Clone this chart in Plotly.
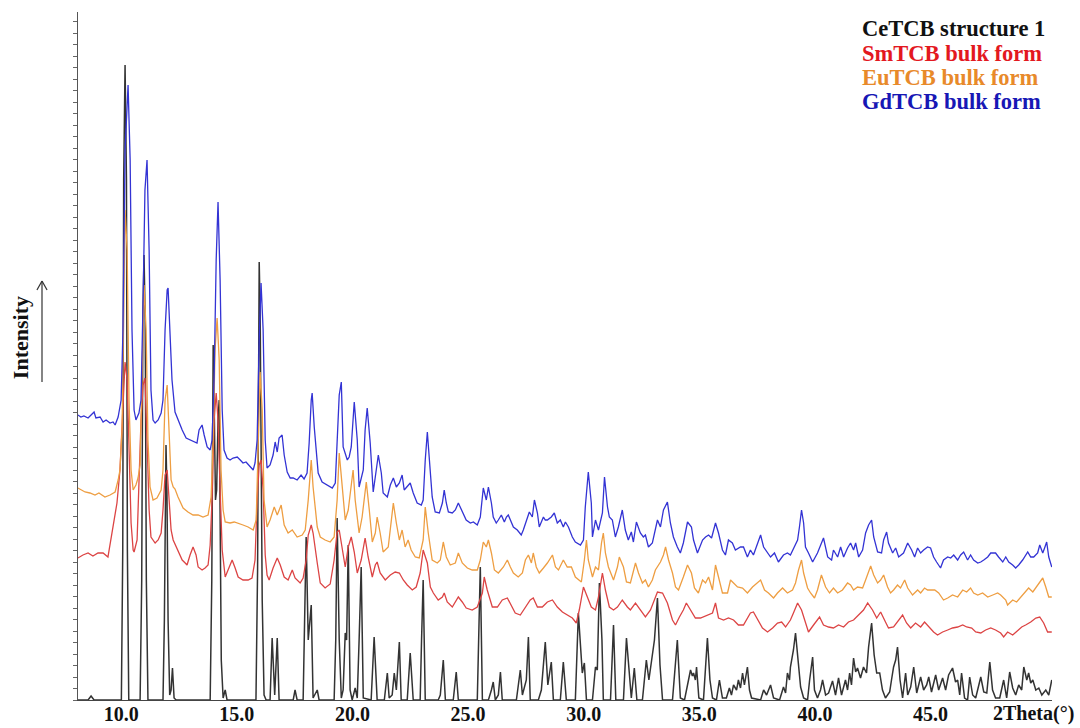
import plotly.graph_objects as go

# ---- data (2Theta in degrees, intensity in arbitrary units, offsets included) ----
ce_2theta = [8.13, 8.57, 8.70, 8.83, 9.95, 10.01, 10.07, 10.11, 10.17, 10.23, 10.27, 10.33, 10.77, 10.82, 10.89, 10.94, 10.99, 11.04, 11.09, 11.16,
             11.77, 11.81, 11.87, 11.91, 11.94, 11.98, 12.03, 12.10, 12.16, 12.22, 12.29, 12.38, 13.80, 13.85, 13.92, 13.95, 13.98, 14.02, 14.08, 14.13,
             14.19, 14.24, 14.28, 14.33, 14.41, 14.50, 14.58,
             15.79, 15.83, 15.90, 15.94, 15.97, 16.01, 16.06, 16.10, 16.18, 16.27, 16.44, 16.53, 16.64, 16.75, 16.83, 17.44, 17.52, 17.61, 17.87, 17.94, 18.00, 18.09,
             18.22, 18.30, 18.48, 18.56, 19.21, 19.28, 19.34, 19.43, 19.52, 19.60, 19.69, 19.75, 19.82, 19.90, 19.99, 20.12, 20.21, 20.29, 20.38,
             20.47, 20.81, 20.94, 21.07, 21.38, 21.51, 21.59, 21.72, 21.81, 21.90, 22.03, 22.11, 22.37, 22.50, 22.63, 22.93, 22.99, 23.06, 23.15,
             23.71, 23.80, 23.93, 24.02, 24.36, 24.49, 24.58, 25.40, 25.47, 25.53, 25.62, 25.88, 26.01, 26.09, 26.18, 26.31, 26.40, 26.48,
             27.09, 27.26, 27.35, 27.52, 27.61, 27.69, 28.04, 28.17, 28.34, 28.45, 28.60, 28.69, 28.99, 29.12, 29.25, 29.64, 29.77, 29.88,
             29.94, 30.03, 30.12, 30.38, 30.51, 30.59, 30.68, 30.79, 30.85, 31.16, 31.29, 31.39, 31.72, 31.85, 31.96, 32.06, 32.19, 32.30,
             32.54, 32.71, 32.82, 32.93, 33.06, 33.19, 33.30, 33.41, 33.84, 34.05, 34.18, 34.36, 34.62, 34.70, 34.75, 34.83, 34.88, 34.98,
             35.18, 35.35, 35.46, 35.57, 35.74, 35.87, 36.00, 36.17, 36.30, 36.39, 36.48, 36.61, 36.69, 36.78, 36.87, 36.95, 37.08, 37.17,
             37.26, 37.65, 37.78, 37.91, 38.08, 38.21, 38.47, 38.64, 38.73, 38.81, 38.90, 38.94, 39.07, 39.16, 39.25, 39.38, 39.51, 39.68,
             39.77, 39.90, 39.98, 40.11, 40.24, 40.33, 40.46, 40.59, 40.76, 40.89, 41.02, 41.15, 41.32, 41.41, 41.50, 41.58, 41.67, 41.76,
             41.84, 41.97, 42.10, 42.23, 42.32, 42.45, 42.56, 42.67, 42.80, 42.92, 43.05, 43.23, 43.31, 43.40, 43.49, 43.57, 43.68, 43.79,
             43.92, 44.01, 44.14, 44.27, 44.40, 44.57, 44.70, 44.83, 44.92, 45.04, 45.22, 45.35, 45.52, 45.65, 45.78, 45.95, 46.08, 46.17,
             46.26, 46.34, 46.47, 46.60, 46.69, 46.82, 46.95, 47.17, 47.30, 47.43, 47.56, 47.68, 47.81, 47.99, 48.16, 48.29, 48.42, 48.55,
             48.68, 48.81, 48.94, 49.03, 49.16, 49.24, 49.33, 49.42, 49.55, 49.68, 49.81, 49.89, 49.98, 50.11, 50.24]
ce_int = [0, 0, 4, 0, 0, 0, 150, 520, 635, 520, 150, 0, 0, 0, 120, 380, 445, 380, 120, 0,
          0, 0, 80, 210, 255, 210, 80, 5, 10, 32, 2, 0, 0, 0, 120, 310, 355, 300, 200, 210,
          280, 300, 200, 40, 2, 10, 0,
          0, 0, 130, 390, 438, 390, 250, 100, 5, 0, 0, 62, 5, 62, 0, 0, 10, 0, 0, 80, 163, 60,
          95, 2, 10, 0, 0, 60, 182, 60, 2, 10, 67, 60, 155, 10, 0, 12, 2, 60, 133,
          2, 0, 63, 0, 0, 27, 2, 5, 27, 10, 58, 0, 0, 47, 0, 0, 60, 120, 0,
          0, 5, 40, 0, 0, 28, 0, 0, 60, 133, 0, 0, 10, 18, 0, 5, 28, 0,
          0, 30, 5, 20, 63, 0, 0, 10, 58, 15, 38, 0, 0, 38, 0, 0, 87, 40,
          27, 37, 0, 0, 33, 30, 117, 60, 0, 0, 75, 0, 0, 62, 30, 2, 32, 0,
          0, 40, 20, 40, 60, 102, 35, 0, 0, 60, 2, 0, 30, 24, 27, 20, 33, 2,
          0, 62, 20, 2, 0, 20, 2, 2, 12, 5, 15, 10, 20, 12, 27, 15, 33, 10,
          2, 0, 10, 5, 15, 2, 0, 13, 7, 27, 20, 33, 50, 67, 45, 13, 2, 0,
          20, 43, 10, 2, 10, 20, 5, 7, 19, 5, 22, 5, 20, 10, 27, 15, 42, 28,
          32, 22, 33, 27, 53, 77, 45, 27, 27, 10, 2, 8, 20, 33, 40, 53, 20, 2,
          27, 5, 13, 33, 7, 23, 10, 15, 23, 8, 25, 10, 22, 10, 25, 32, 18, 20,
          5, 27, 2, 0, 23, 5, 2, 23, 8, 7, 38, 10, 2, 2, 20, 2, 28, 12,
          5, 15, 10, 33, 20, 27, 17, 20, 10, 12, 5, 8, 10, 5, 20]

sm_2theta = [8.13, 8.35, 8.57, 8.78, 9.00, 9.22, 9.43, 9.56, 9.69, 9.82, 9.95, 10.04, 10.13, 10.17, 10.26, 10.34, 10.43, 10.52, 10.56,
             10.69, 10.77, 10.86, 10.95, 11.03, 11.12, 11.21, 11.29, 11.47, 11.60, 11.73, 11.81, 11.90, 11.99, 12.07, 12.16, 12.25, 12.46,
             12.64, 12.77, 12.85, 12.98, 13.11, 13.24, 13.33, 13.50, 13.63, 13.76, 13.85, 13.93, 14.02, 14.11, 14.19, 14.28, 14.37, 14.50,
             14.63, 14.80, 14.93, 15.06, 15.27, 15.49, 15.66, 15.79, 15.88, 15.97, 16.05, 16.14, 16.23, 16.31, 16.40, 16.57, 16.75, 16.88,
             17.05, 17.22, 17.40, 17.52, 17.74, 17.87, 18.00, 18.09, 18.22, 18.30, 18.48, 18.61, 18.82, 19.04, 19.21, 19.34, 19.43, 19.56,
             19.69, 19.82, 19.95, 20.08, 20.21, 20.38, 20.55, 20.68, 20.86, 20.99, 21.07, 21.20, 21.42, 21.64, 21.85, 22.03, 22.20, 22.37,
             22.59, 22.76, 22.93, 23.06, 23.24, 23.37, 23.50, 23.71, 23.89, 23.97, 24.10, 24.32, 24.49, 24.58, 24.75, 24.92, 25.18, 25.40,
             25.62, 25.70, 25.83, 26.05, 26.27, 26.48, 26.70, 26.87, 27.04, 27.26, 27.48, 27.69, 27.82, 28.00, 28.21, 28.43, 28.65, 28.86,
             29.08, 29.29, 29.51, 29.68, 29.81, 29.99, 30.16, 30.33, 30.51, 30.64, 30.81, 30.94, 31.11, 31.29, 31.46, 31.67, 31.89, 32.02,
             32.24, 32.45, 32.67, 32.89, 33.06, 33.19, 33.41, 33.62, 33.84, 33.97, 34.14, 34.31, 34.44, 34.62, 34.83, 35.05, 35.35, 35.57,
             35.70, 35.83, 36.05, 36.26, 36.48, 36.69, 36.91, 37.21, 37.34, 37.52, 37.73, 37.95, 38.17, 38.38, 38.56, 38.73, 38.94, 39.07,
             39.25, 39.42, 39.59, 39.72, 39.94, 40.20, 40.37, 40.59, 40.80, 41.02, 41.24, 41.45, 41.67, 41.89, 42.10, 42.28, 42.49, 42.67,
             42.84, 43.05, 43.18, 43.40, 43.62, 43.79, 43.96, 44.14, 44.35, 44.57, 44.74, 44.92, 45.13, 45.30, 45.52, 45.74, 45.95, 46.17,
             46.39, 46.56, 46.78, 46.95, 47.17, 47.38, 47.60, 47.81, 48.03, 48.16, 48.33, 48.55, 48.77, 48.94, 49.11, 49.33, 49.55, 49.72,
             49.89, 50.06, 50.24]
sm_int = [142, 145, 147, 144, 147, 147, 143, 160, 180, 197, 230, 280, 330, 338, 320, 250, 177, 150, 148,
          160, 210, 280, 315, 322, 260, 190, 163, 157, 160, 167, 190, 225, 230, 200, 170, 160, 150,
          140, 137, 135, 145, 153, 145, 133, 130, 132, 135, 155, 200, 280, 307, 280, 210, 150, 123,
          130, 140, 132, 123, 120, 120, 122, 140, 200, 235, 240, 210, 145, 125, 120, 132, 142, 135,
          123, 120, 130, 122, 117, 122, 140, 165, 175, 167, 137, 117, 112, 116, 140, 168, 170, 153,
          133, 153, 163, 148, 127, 140, 162, 143, 123, 135, 138, 127, 120, 125, 128, 127, 120, 115,
          110, 113, 127, 150, 137, 113, 107, 100, 103, 107, 98, 93, 100, 103, 98, 92, 90, 93,
          107, 123, 110, 93, 93, 100, 102, 95, 87, 85, 93, 100, 102, 93, 93, 98, 100, 93,
          88, 85, 82, 77, 90, 113, 103, 93, 90, 103, 127, 110, 93, 90, 93, 100, 93, 90,
          97, 90, 83, 90, 100, 108, 107, 97, 80, 75, 83, 90, 97, 90, 82, 82, 85, 87,
          97, 82, 80, 82, 80, 75, 75, 87, 88, 80, 72, 68, 72, 77, 78, 73, 80, 87,
          97, 90, 78, 68, 75, 83, 75, 73, 72, 75, 73, 78, 80, 85, 90, 97, 90, 82,
          88, 78, 72, 73, 80, 85, 77, 72, 77, 73, 78, 73, 68, 65, 68, 70, 72, 73,
          75, 73, 72, 68, 67, 70, 72, 70, 67, 63, 68, 65, 70, 73, 75, 78, 82, 83,
          77, 68, 68]

eu_2theta = [8.13, 8.44, 8.65, 8.87, 9.04, 9.30, 9.52, 9.74, 9.87, 9.95, 10.04, 10.13, 10.17, 10.26, 10.34, 10.43, 10.52, 10.64, 10.73,
             10.82, 10.90, 10.99, 11.08, 11.16, 11.25, 11.38, 11.55, 11.73, 11.81, 11.90, 11.99, 12.07, 12.16, 12.25, 12.33, 12.46, 12.68,
             12.89, 13.11, 13.33, 13.54, 13.76, 13.89, 13.98, 14.06, 14.15, 14.24, 14.32, 14.41, 14.50, 14.71, 14.89, 15.06, 15.27, 15.49,
             15.71, 15.84, 15.92, 16.01, 16.10, 16.18, 16.31, 16.44, 16.62, 16.75, 16.92, 17.05, 17.22, 17.40, 17.61, 17.83, 17.96, 18.09,
             18.22, 18.30, 18.48, 18.61, 18.82, 19.04, 19.21, 19.34, 19.43, 19.56, 19.69, 19.82, 20.03, 20.12, 20.29, 20.42, 20.60, 20.73,
             20.86, 20.99, 21.07, 21.20, 21.33, 21.55, 21.77, 21.90, 22.03, 22.15, 22.28, 22.41, 22.54, 22.72, 22.89, 23.06, 23.15, 23.28,
             23.45, 23.67, 23.80, 23.93, 24.06, 24.23, 24.45, 24.58, 24.75, 24.97, 25.18, 25.40, 25.53, 25.66, 25.79, 25.88, 26.01, 26.14,
             26.31, 26.53, 26.70, 26.83, 26.96, 27.17, 27.35, 27.48, 27.61, 27.74, 27.82, 27.95, 28.08, 28.26, 28.43, 28.65, 28.78, 28.91,
             29.12, 29.29, 29.47, 29.64, 29.90, 30.03, 30.12, 30.20, 30.38, 30.51, 30.64, 30.77, 30.85, 30.94, 31.07, 31.29, 31.46, 31.54,
             31.72, 31.85, 32.02, 32.24, 32.37, 32.54, 32.67, 32.80, 32.97, 33.10, 33.32, 33.45, 33.54, 33.67, 33.84, 33.97, 34.10, 34.31,
             34.49, 34.66, 34.79, 34.96, 35.14, 35.27, 35.40, 35.57, 35.70, 35.83, 36.00, 36.22, 36.35, 36.48, 36.65, 36.87, 37.08, 37.30,
             37.52, 37.65, 37.82, 37.99, 38.21, 38.38, 38.60, 38.81, 39.03, 39.16, 39.29, 39.42, 39.51, 39.68, 39.81, 39.98, 40.11, 40.28,
             40.46, 40.63, 40.80, 40.98, 41.19, 41.41, 41.54, 41.67, 41.84, 42.06, 42.19, 42.32, 42.41, 42.54, 42.71, 42.84, 42.97, 43.14,
             43.27, 43.40, 43.57, 43.70, 43.88, 44.01, 44.22, 44.44, 44.57, 44.74, 44.87, 45.00, 45.18, 45.35, 45.56, 45.74, 45.95, 46.17,
             46.39, 46.56, 46.73, 46.86, 47.04, 47.25, 47.47, 47.69, 47.90, 48.03, 48.25, 48.33, 48.55, 48.72, 48.90, 49.07, 49.24, 49.42,
             49.55, 49.68, 49.85, 49.98, 50.11, 50.24]
eu_int = [212, 208, 207, 205, 207, 203, 205, 208, 220, 230, 270, 440, 490, 450, 300, 230, 210, 215, 222,
          235, 320, 415, 370, 260, 213, 200, 202, 210, 230, 300, 315, 270, 220, 213, 211, 203, 192,
          188, 185, 185, 183, 185, 203, 260, 350, 382, 340, 230, 190, 178, 177, 178, 177, 175, 173,
          170, 180, 260, 328, 290, 200, 173, 180, 193, 185, 195, 175, 167, 170, 163, 165, 170, 200,
          240, 213, 173, 163, 160, 158, 163, 200, 247, 213, 180, 190, 230, 200, 167, 183, 218, 190,
          158, 167, 183, 167, 148, 153, 197, 177, 160, 170, 153, 160, 150, 143, 142, 160, 193, 167,
          140, 137, 140, 158, 143, 135, 137, 147, 137, 132, 130, 130, 140, 158, 153, 160, 147, 130,
          127, 133, 140, 133, 127, 123, 127, 140, 145, 137, 147, 133, 127, 132, 137, 145, 133, 130,
          140, 133, 133, 123, 118, 140, 160, 140, 123, 133, 130, 157, 167, 147, 133, 120, 133, 143,
          133, 118, 117, 137, 127, 117, 120, 113, 120, 130, 138, 145, 153, 140, 127, 113, 110, 123,
          135, 127, 112, 107, 120, 117, 123, 110, 135, 123, 107, 107, 120, 117, 113, 112, 107, 113,
          118, 120, 110, 107, 102, 107, 112, 107, 110, 117, 130, 140, 127, 112, 107, 102, 110, 125,
          113, 107, 112, 107, 110, 117, 115, 110, 113, 112, 120, 128, 134, 125, 117, 120, 125, 113,
          107, 110, 115, 112, 120, 112, 105, 110, 107, 112, 110, 110, 110, 107, 100, 102, 105, 103,
          110, 108, 112, 107, 105, 107, 103, 105, 107, 105, 100, 95, 100, 98, 103, 107, 112, 108,
          112, 117, 122, 113, 103, 103]

gd_2theta = [8.13, 8.26, 8.39, 8.57, 8.70, 8.83, 8.91, 9.09, 9.22, 9.35, 9.52, 9.65, 9.74, 9.87, 10.00, 10.08, 10.17, 10.26, 10.30,
             10.39, 10.47, 10.56, 10.64, 10.77, 10.86, 10.95, 11.03, 11.12, 11.21, 11.29, 11.38, 11.47, 11.60, 11.73, 11.81, 11.90, 11.99,
             12.03, 12.12, 12.20, 12.33, 12.46, 12.64, 12.81, 12.98, 13.15, 13.28, 13.37, 13.50, 13.59, 13.72, 13.85, 13.93, 14.02, 14.11,
             14.19, 14.28, 14.37, 14.45, 14.58, 14.71, 14.84, 15.02, 15.15, 15.27, 15.40, 15.53, 15.71, 15.79, 15.88, 15.97, 16.05, 16.14,
             16.23, 16.31, 16.44, 16.57, 16.66, 16.75, 16.83, 16.96, 17.05, 17.18, 17.31, 17.44, 17.61, 17.78, 17.91, 18.04, 18.13, 18.22,
             18.26, 18.35, 18.52, 18.69, 18.91, 19.13, 19.26, 19.34, 19.43, 19.52, 19.60, 19.78, 19.86, 19.95, 20.08, 20.21, 20.29, 20.47,
             20.55, 20.64, 20.77, 20.90, 21.03, 21.12, 21.25, 21.33, 21.51, 21.64, 21.77, 21.90, 22.03, 22.15, 22.24, 22.37, 22.50, 22.63,
             22.80, 22.98, 23.06, 23.15, 23.24, 23.32, 23.45, 23.58, 23.76, 23.89, 23.97, 24.06, 24.15, 24.32, 24.45, 24.58, 24.75, 24.92,
             25.10, 25.23, 25.40, 25.53, 25.66, 25.79, 25.88, 26.01, 26.09, 26.22, 26.31, 26.44, 26.57, 26.66, 26.74, 26.87, 26.96, 27.13,
             27.30, 27.39, 27.56, 27.65, 27.78, 27.87, 28.00, 28.08, 28.26, 28.34, 28.43, 28.60, 28.73, 28.86, 28.99, 29.12, 29.21, 29.34,
             29.51, 29.64, 29.86, 29.99, 30.07, 30.20, 30.33, 30.38, 30.51, 30.64, 30.81, 30.90, 31.03, 31.11, 31.24, 31.37, 31.50, 31.67,
             31.80, 31.93, 32.06, 32.15, 32.28, 32.45, 32.58, 32.67, 32.80, 32.97, 33.19, 33.32, 33.45, 33.62, 33.75, 33.88, 34.05, 34.18,
             34.31, 34.49, 34.66, 34.75, 34.92, 35.14, 35.27, 35.40, 35.53, 35.70, 35.83, 36.00, 36.13, 36.26, 36.43, 36.56, 36.78, 36.91,
             37.08, 37.21, 37.34, 37.52, 37.65, 37.78, 37.95, 38.08, 38.25, 38.42, 38.64, 38.81, 38.94, 39.07, 39.25, 39.33, 39.42, 39.51,
             39.59, 39.72, 39.90, 40.11, 40.37, 40.55, 40.72, 40.80, 40.98, 41.11, 41.24, 41.41, 41.54, 41.67, 41.76, 41.89, 42.06, 42.19,
             42.32, 42.45, 42.54, 42.71, 42.88, 42.97, 43.10, 43.18, 43.36, 43.49, 43.62, 43.83, 44.01, 44.18, 44.31, 44.44, 44.57, 44.70,
             44.87, 45.00, 45.13, 45.26, 45.43, 45.56, 45.74, 45.87, 46.00, 46.17, 46.30, 46.43, 46.60, 46.73, 46.86, 47.04, 47.17, 47.30,
             47.47, 47.60, 47.81, 47.94, 48.12, 48.25, 48.38, 48.55, 48.68, 48.81, 48.98, 49.20, 49.33, 49.46, 49.63, 49.72, 49.85, 49.93,
             50.02, 50.11, 50.24]
gd_int = [285, 283, 284, 282, 285, 288, 282, 283, 278, 280, 277, 278, 275, 283, 300, 370, 550, 610, 615,
          540, 370, 290, 280, 287, 300, 400, 510, 540, 450, 310, 280, 277, 280, 287, 300, 370, 410,
          412, 360, 320, 288, 280, 270, 262, 260, 258, 257, 270, 275, 265, 253, 250, 260, 320, 440,
          498, 420, 290, 250, 242, 240, 242, 243, 240, 237, 238, 235, 230, 237, 260, 360, 417, 370,
          260, 232, 235, 245, 258, 248, 262, 265, 245, 228, 222, 222, 220, 225, 221, 227, 257, 300,
          307, 273, 227, 218, 215, 212, 217, 253, 305, 318, 253, 240, 243, 253, 298, 260, 213, 230,
          270, 292, 257, 208, 227, 245, 227, 207, 203, 215, 222, 213, 217, 225, 210, 213, 217, 207,
          197, 195, 200, 240, 268, 243, 203, 188, 187, 197, 210, 197, 188, 187, 190, 197, 188, 180,
          177, 178, 175, 183, 212, 200, 213, 197, 183, 177, 180, 185, 178, 183, 185, 177, 173, 170,
          165, 170, 183, 188, 183, 200, 187, 173, 183, 180, 180, 183, 187, 177, 180, 173, 178, 173,
          163, 158, 155, 160, 193, 228, 197, 163, 180, 170, 187, 223, 193, 183, 180, 163, 173, 190,
          170, 160, 168, 158, 178, 167, 163, 165, 153, 157, 180, 173, 190, 198, 177, 163, 153, 147,
          157, 178, 173, 160, 147, 160, 163, 165, 162, 177, 167, 150, 145, 160, 157, 150, 153, 153,
          143, 150, 145, 157, 165, 153, 147, 143, 147, 138, 145, 147, 145, 152, 160, 173, 190, 177,
          153, 147, 138, 147, 162, 143, 140, 150, 143, 153, 143, 152, 157, 150, 157, 143, 150, 167,
          175, 180, 163, 148, 147, 160, 168, 157, 147, 152, 143, 147, 157, 150, 143, 152, 147, 150,
          153, 152, 143, 138, 132, 140, 143, 142, 145, 140, 145, 148, 140, 145, 140, 137, 138, 140,
          143, 147, 147, 143, 138, 143, 138, 135, 132, 135, 140, 148, 143, 143, 147, 155, 147, 152,
          158, 143, 133]

series_names = ["CeTCB structure 1", "SmTCB bulk form", "EuTCB bulk form", "GdTCB bulk form"]
line_colors = ["#333333", "#dc4444", "#ee9e42", "#3333d4"]
label_colors = ["#111111", "#e3181f", "#e88a2a", "#1717b5"]
x_ticks = [10, 15, 20, 25, 30, 35, 40, 45]
x_tick_text = ["10.0", "15.0", "20.0", "25.0", "30.0", "35.0", "40.0", "45.0"]

serif = "Liberation Serif"

fig = go.Figure()
for xs, ys, name, col, w in [
    (ce_2theta, ce_int, series_names[0], line_colors[0], 1.5),
    (sm_2theta, sm_int, series_names[1], line_colors[1], 1.3),
    (eu_2theta, eu_int, series_names[2], line_colors[2], 1.3),
    (gd_2theta, gd_int, series_names[3], line_colors[3], 1.3),
]:
    fig.add_trace(go.Scatter(x=xs, y=ys, mode="lines", name=name,
                             line=dict(color=col, width=w), showlegend=False))

fig.update_layout(
    width=1080, height=728,
    margin=dict(l=78, r=28, t=12, b=28, autoexpand=False),
    paper_bgcolor="white", plot_bgcolor="white",
    showlegend=False,
    font=dict(family=serif, color="#111"),
)
fig.update_xaxes(
    range=[8.135, 50.25], showgrid=False, zeroline=False, automargin=False,
    showline=True, linecolor="#444", linewidth=1,
    tickvals=x_ticks, ticktext=["<b>" + t + "</b>" for t in x_tick_text], ticks="", ticklen=0,
    ticklabelstandoff=-4,
    tickfont=dict(family=serif, size=20, color="#111"),
)
fig.update_yaxes(
    range=[0, 688], showgrid=False, zeroline=False, automargin=False,
    showline=True, linecolor="#555", linewidth=1,
    ticks="outside", ticklen=4, tickcolor="#666", tickwidth=1,
    tick0=0, dtick=11.5, showticklabels=False,
)

# legend-like coloured labels (top right)
label_y = [0.9767, 0.9404, 0.9055, 0.8706]
for name, col, yy in zip(series_names, label_colors, label_y):
    fig.add_annotation(xref="paper", yref="paper", x=0.803, y=yy,
                       xanchor="left", yanchor="middle", showarrow=False,
                       text="<b>" + name + "</b>", font=dict(family=serif, size=22.5, color=col))

# axis titles
fig.add_annotation(xref="paper", yref="paper", x=0.9805, y=-0.0203, xanchor="center", yanchor="middle",
                   showarrow=False, text="<b>2Theta(°)</b>", font=dict(family=serif, size=20, color="#111"))
fig.add_annotation(xref="paper", yref="paper", x=-0.0595, y=0.526, xanchor="center", yanchor="middle",
                   showarrow=False, textangle=-90, text="<b>Intensity</b>",
                   font=dict(family=serif, size=22, color="#111"))
# upward arrow beside the Intensity label
ax_x = -0.03696
fig.add_shape(type="line", xref="paper", yref="paper", x0=ax_x, x1=ax_x, y0=0.4622, y1=0.6090,
              line=dict(color="#333", width=1.2))
fig.add_shape(type="line", xref="paper", yref="paper", x0=ax_x, x1=ax_x - 0.0052, y0=0.6090, y1=0.5960,
              line=dict(color="#333", width=1.2))
fig.add_shape(type="line", xref="paper", yref="paper", x0=ax_x, x1=ax_x + 0.0052, y0=0.6090, y1=0.5960,
              line=dict(color="#333", width=1.2))

fig.write_html("out.html")
